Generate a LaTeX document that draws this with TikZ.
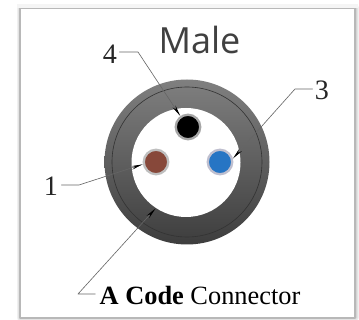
\documentclass[tikz,border=0pt]{standalone}
\usepackage{fontspec}
\setmainfont{Liberation Serif}
\newfontfamily\titlefont{Open Sans}
\usetikzlibrary{arrows.meta}
\tikzset{
	pin/.style={circle, draw=#1, line width=1.3pt, inner sep=0pt, minimum size=0.49cm},
	leader/.style={draw=black!60, line width=0.35pt, line join=round, -{Stealth[black,length=6.5pt,width=2pt]}},
	num/.style={font=\fontsize{16}{16}\selectfont, text=black!85, inner sep=0pt},
}
\begin{document}
\begin{tikzpicture}[x=0.02cm, y=-0.02cm, line join=round, line cap=round]
	\useasboundingbox (0,0) rectangle (359,320);
	% frame with soft edge
	\foreach \w/\c in {7/6,5/11,3/17,1.5/28}
		\draw[black!\c, line width=\w*0.02cm] (20,8) rectangle (355,318);
	\fill[white] (21,9) rectangle (354,317);
	\fill[black!4] (17,4) rectangle (358,8);
	% connector body
	\shade[top color=black!50, bottom color=black!76] (187,162) circle (82.5);
	\draw[black!80, line width=0.35pt] (187,162) circle (75);
	\fill[white] (186,162.5) circle (54.5);
	% contacts
	\node[pin=black!35, fill=black] (pinblack) at (188,127) {};
	\node[pin=black!25, fill={rgb,255:red,135;green,72;blue,58}] (pinbrown) at (156,162) {};
	\node[pin=blue!25!black!25, fill={rgb,255:red,38;green,117;blue,196}] (pinblue) at (220,162) {};
	% labels
	\node[font=\titlefont\fontsize{20.5}{20.5}\selectfont, text=black!75, inner sep=0pt] (title) at (199.5,40) {Male};
	\node[num] (numfour) at (110,54) {4};
	\node[num] (numthree) at (322,90) {3};
	\node[num] (numone) at (51,186) {1};
	\node[font=\fontsize{15}{15}\selectfont, inner sep=0pt] (code) at (200,295) {\textbf{A Code} Connector};
	% leaders
	\coordinate (bendfour) at (138,52);
	\coordinate (bendthree) at (295,89);
	\coordinate (bendone) at (79,185);
	\coordinate (bendcode) at (78,294);
	\coordinate (ringedge) at (155.5,208.5);
	\draw[leader] (numfour.east)++(2,-2) -- (bendfour) -- (pinblack.125);
	\draw[leader] (numthree.west)++(-2,-1) -- (bendthree) -- (pinblue.15);
	\draw[leader] (numone.east)++(3,-1) -- (bendone) -- (pinbrown.190);
	\draw[leader] (code.west)++(-4,-1) -- (bendcode) -- (ringedge);
\end{tikzpicture}
\end{document}
